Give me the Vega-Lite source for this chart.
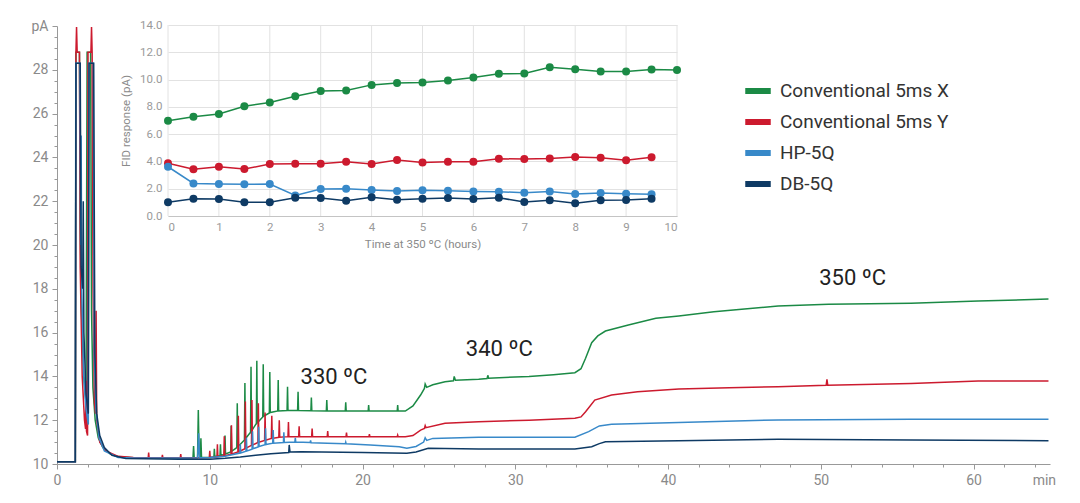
{
  "$schema": "https://vega.github.io/schema/vega-lite/v6.json",
  "width": 993,
  "height": 438,
  "autosize": {"type": "none"},
  "padding": {"left": 57, "top": 26, "right": 30, "bottom": 39},
  "background": "white",
  "config": {
    "view": {"stroke": null},
    "font": "Roboto",
    "legend": {"symbolType": "stroke", "symbolStrokeWidth": 6, "symbolSize": 650, "labelFontSize": 19, "labelColor": "#333", "labelFont": "Roboto", "rowPadding": 3, "labelOffset": 6, "labelLimit": 400, "title": null}
  },
  "datasets": {
    "trace": [
      {"s":"Conventional 5ms X","t":0,"v":10.1},{"s":"Conventional 5ms X","t":1.2,"v":10.1},{"s":"Conventional 5ms X","t":1.24,"v":28.8},{"s":"Conventional 5ms X","t":1.47,"v":28.8},{"s":"Conventional 5ms X","t":1.52,"v":21},{"s":"Conventional 5ms X","t":1.6,"v":17},{"s":"Conventional 5ms X","t":1.75,"v":14},{"s":"Conventional 5ms X","t":1.9,"v":12.8},{"s":"Conventional 5ms X","t":1.97,"v":28.8},{"s":"Conventional 5ms X","t":2.2,"v":28.8},{"s":"Conventional 5ms X","t":2.26,"v":17},{"s":"Conventional 5ms X","t":2.35,"v":13.5},{"s":"Conventional 5ms X","t":2.5,"v":12},{"s":"Conventional 5ms X","t":2.7,"v":11.2},{"s":"Conventional 5ms X","t":3.0,"v":10.75},{"s":"Conventional 5ms X","t":3.5,"v":10.45},{"s":"Conventional 5ms X","t":4.0,"v":10.33},{"s":"Conventional 5ms X","t":5.0,"v":10.28},{"s":"Conventional 5ms X","t":6.0,"v":10.27},{"s":"Conventional 5ms X","t":7.0,"v":10.26},{"s":"Conventional 5ms X","t":8.0,"v":10.26},{"s":"Conventional 5ms X","t":8.9,"v":10.27},{"s":"Conventional 5ms X","t":8.94,"v":10.82},{"s":"Conventional 5ms X","t":8.98,"v":10.28},{"s":"Conventional 5ms X","t":9.2,"v":10.28},{"s":"Conventional 5ms X","t":9.25,"v":12.47},{"s":"Conventional 5ms X","t":9.3,"v":10.5},{"s":"Conventional 5ms X","t":9.38,"v":10.3},{"s":"Conventional 5ms X","t":9.42,"v":11.17},{"s":"Conventional 5ms X","t":9.46,"v":10.3},{"s":"Conventional 5ms X","t":10.0,"v":10.3},{"s":"Conventional 5ms X","t":10.27,"v":10.32},{"s":"Conventional 5ms X","t":10.3,"v":10.7},{"s":"Conventional 5ms X","t":10.33,"v":10.34},{"s":"Conventional 5ms X","t":10.67,"v":10.38},{"s":"Conventional 5ms X","t":10.7,"v":10.9},{"s":"Conventional 5ms X","t":10.73,"v":10.4},{"s":"Conventional 5ms X","t":10.97,"v":10.44},{"s":"Conventional 5ms X","t":11.0,"v":11.3},{"s":"Conventional 5ms X","t":11.03,"v":10.46},{"s":"Conventional 5ms X","t":11.37,"v":10.55},{"s":"Conventional 5ms X","t":11.4,"v":11.75},{"s":"Conventional 5ms X","t":11.43,"v":10.58},{"s":"Conventional 5ms X","t":11.77,"v":10.75},{"s":"Conventional 5ms X","t":11.8,"v":12.77},{"s":"Conventional 5ms X","t":11.83,"v":10.8},{"s":"Conventional 5ms X","t":12.0,"v":10.9},{"s":"Conventional 5ms X","t":12.27,"v":11.1},{"s":"Conventional 5ms X","t":12.3,"v":13.7},{"s":"Conventional 5ms X","t":12.33,"v":11.15},{"s":"Conventional 5ms X","t":12.5,"v":11.3},{"s":"Conventional 5ms X","t":12.67,"v":11.45},{"s":"Conventional 5ms X","t":12.7,"v":14.44},{"s":"Conventional 5ms X","t":12.73,"v":11.5},{"s":"Conventional 5ms X","t":13.0,"v":11.8},{"s":"Conventional 5ms X","t":13.05,"v":11.85},{"s":"Conventional 5ms X","t":13.08,"v":14.72},{"s":"Conventional 5ms X","t":13.11,"v":11.88},{"s":"Conventional 5ms X","t":13.47,"v":12.15},{"s":"Conventional 5ms X","t":13.5,"v":14.55},{"s":"Conventional 5ms X","t":13.53,"v":12.18},{"s":"Conventional 5ms X","t":13.9,"v":12.33},{"s":"Conventional 5ms X","t":13.93,"v":14.2},{"s":"Conventional 5ms X","t":13.96,"v":12.35},{"s":"Conventional 5ms X","t":14.45,"v":12.42},{"s":"Conventional 5ms X","t":14.48,"v":13.84},{"s":"Conventional 5ms X","t":14.51,"v":12.42},{"s":"Conventional 5ms X","t":15.06,"v":12.44},{"s":"Conventional 5ms X","t":15.09,"v":13.53},{"s":"Conventional 5ms X","t":15.12,"v":12.44},{"s":"Conventional 5ms X","t":15.75,"v":12.44},{"s":"Conventional 5ms X","t":15.78,"v":13.3},{"s":"Conventional 5ms X","t":15.81,"v":12.44},{"s":"Conventional 5ms X","t":16.62,"v":12.43},{"s":"Conventional 5ms X","t":16.65,"v":13.03},{"s":"Conventional 5ms X","t":16.68,"v":12.43},{"s":"Conventional 5ms X","t":17.63,"v":12.42},{"s":"Conventional 5ms X","t":17.66,"v":12.92},{"s":"Conventional 5ms X","t":17.69,"v":12.42},{"s":"Conventional 5ms X","t":18.87,"v":12.42},{"s":"Conventional 5ms X","t":18.9,"v":12.82},{"s":"Conventional 5ms X","t":18.93,"v":12.42},{"s":"Conventional 5ms X","t":20.37,"v":12.42},{"s":"Conventional 5ms X","t":20.4,"v":12.69},{"s":"Conventional 5ms X","t":20.43,"v":12.42},{"s":"Conventional 5ms X","t":22.27,"v":12.42},{"s":"Conventional 5ms X","t":22.3,"v":12.69},{"s":"Conventional 5ms X","t":22.33,"v":12.42},{"s":"Conventional 5ms X","t":22.8,"v":12.42},{"s":"Conventional 5ms X","t":23.3,"v":12.65},{"s":"Conventional 5ms X","t":23.8,"v":13.15},{"s":"Conventional 5ms X","t":24.05,"v":13.45},{"s":"Conventional 5ms X","t":24.1,"v":13.65},{"s":"Conventional 5ms X","t":24.2,"v":13.5},{"s":"Conventional 5ms X","t":24.6,"v":13.62},{"s":"Conventional 5ms X","t":25.4,"v":13.76},{"s":"Conventional 5ms X","t":25.95,"v":13.8},{"s":"Conventional 5ms X","t":26.0,"v":14.0},{"s":"Conventional 5ms X","t":26.08,"v":13.82},{"s":"Conventional 5ms X","t":27.6,"v":13.87},{"s":"Conventional 5ms X","t":28.15,"v":13.9},{"s":"Conventional 5ms X","t":28.2,"v":14.05},{"s":"Conventional 5ms X","t":28.25,"v":13.92},{"s":"Conventional 5ms X","t":30.9,"v":14.0},{"s":"Conventional 5ms X","t":32.5,"v":14.08},{"s":"Conventional 5ms X","t":33.9,"v":14.17},{"s":"Conventional 5ms X","t":34.3,"v":14.35},{"s":"Conventional 5ms X","t":34.6,"v":14.83},{"s":"Conventional 5ms X","t":35.0,"v":15.54},{"s":"Conventional 5ms X","t":35.4,"v":15.85},{"s":"Conventional 5ms X","t":35.9,"v":16.07},{"s":"Conventional 5ms X","t":37.4,"v":16.35},{"s":"Conventional 5ms X","t":39.2,"v":16.65},{"s":"Conventional 5ms X","t":40.7,"v":16.76},{"s":"Conventional 5ms X","t":43,"v":16.95},{"s":"Conventional 5ms X","t":45,"v":17.08},{"s":"Conventional 5ms X","t":47.2,"v":17.21},{"s":"Conventional 5ms X","t":50.5,"v":17.29},{"s":"Conventional 5ms X","t":55.9,"v":17.34},{"s":"Conventional 5ms X","t":60.3,"v":17.44},{"s":"Conventional 5ms X","t":64.9,"v":17.53},

      {"s":"Conventional 5ms Y","t":0,"v":10.1},{"s":"Conventional 5ms Y","t":1.2,"v":10.1},{"s":"Conventional 5ms Y","t":1.24,"v":28.8},{"s":"Conventional 5ms Y","t":1.28,"v":29.95},{"s":"Conventional 5ms Y","t":1.32,"v":28.8},{"s":"Conventional 5ms Y","t":1.47,"v":28.8},{"s":"Conventional 5ms Y","t":1.52,"v":19},{"s":"Conventional 5ms Y","t":1.65,"v":14},{"s":"Conventional 5ms Y","t":1.8,"v":12},{"s":"Conventional 5ms Y","t":1.87,"v":11.6},{"s":"Conventional 5ms Y","t":1.9,"v":13.8},{"s":"Conventional 5ms Y","t":1.93,"v":11.5},{"s":"Conventional 5ms Y","t":2.0,"v":11.3},{"s":"Conventional 5ms Y","t":2.03,"v":28.8},{"s":"Conventional 5ms Y","t":2.22,"v":28.8},{"s":"Conventional 5ms Y","t":2.26,"v":29.95},{"s":"Conventional 5ms Y","t":2.3,"v":28.8},{"s":"Conventional 5ms Y","t":2.36,"v":18},{"s":"Conventional 5ms Y","t":2.45,"v":12.8},{"s":"Conventional 5ms Y","t":2.52,"v":12.3},{"s":"Conventional 5ms Y","t":2.56,"v":17.0},{"s":"Conventional 5ms Y","t":2.6,"v":12.0},{"s":"Conventional 5ms Y","t":2.8,"v":11.0},{"s":"Conventional 5ms Y","t":3.2,"v":10.6},{"s":"Conventional 5ms Y","t":4.0,"v":10.35},{"s":"Conventional 5ms Y","t":5.0,"v":10.3},{"s":"Conventional 5ms Y","t":5.97,"v":10.28},{"s":"Conventional 5ms Y","t":6.0,"v":10.52},{"s":"Conventional 5ms Y","t":6.03,"v":10.28},{"s":"Conventional 5ms Y","t":6.87,"v":10.28},{"s":"Conventional 5ms Y","t":6.9,"v":10.42},{"s":"Conventional 5ms Y","t":6.93,"v":10.28},{"s":"Conventional 5ms Y","t":8.07,"v":10.28},{"s":"Conventional 5ms Y","t":8.1,"v":10.45},{"s":"Conventional 5ms Y","t":8.13,"v":10.28},{"s":"Conventional 5ms Y","t":9.97,"v":10.3},{"s":"Conventional 5ms Y","t":10.0,"v":10.6},{"s":"Conventional 5ms Y","t":10.03,"v":10.3},{"s":"Conventional 5ms Y","t":10.47,"v":10.32},{"s":"Conventional 5ms Y","t":10.5,"v":10.9},{"s":"Conventional 5ms Y","t":10.53,"v":10.33},{"s":"Conventional 5ms Y","t":10.92,"v":10.38},{"s":"Conventional 5ms Y","t":10.95,"v":11.27},{"s":"Conventional 5ms Y","t":10.98,"v":10.38},{"s":"Conventional 5ms Y","t":11.39,"v":10.45},{"s":"Conventional 5ms Y","t":11.42,"v":11.77},{"s":"Conventional 5ms Y","t":11.45,"v":10.46},{"s":"Conventional 5ms Y","t":11.84,"v":10.55},{"s":"Conventional 5ms Y","t":11.87,"v":12.2},{"s":"Conventional 5ms Y","t":11.9,"v":10.56},{"s":"Conventional 5ms Y","t":12.3,"v":10.7},{"s":"Conventional 5ms Y","t":12.33,"v":12.85},{"s":"Conventional 5ms Y","t":12.36,"v":10.72},{"s":"Conventional 5ms Y","t":12.73,"v":10.85},{"s":"Conventional 5ms Y","t":12.76,"v":12.92},{"s":"Conventional 5ms Y","t":12.79,"v":10.86},{"s":"Conventional 5ms Y","t":13.15,"v":10.98},{"s":"Conventional 5ms Y","t":13.18,"v":12.77},{"s":"Conventional 5ms Y","t":13.21,"v":10.99},{"s":"Conventional 5ms Y","t":13.59,"v":11.08},{"s":"Conventional 5ms Y","t":13.62,"v":12.35},{"s":"Conventional 5ms Y","t":13.65,"v":11.09},{"s":"Conventional 5ms Y","t":14.03,"v":11.17},{"s":"Conventional 5ms Y","t":14.06,"v":12.2},{"s":"Conventional 5ms Y","t":14.09,"v":11.17},{"s":"Conventional 5ms Y","t":14.52,"v":11.22},{"s":"Conventional 5ms Y","t":14.55,"v":12.0},{"s":"Conventional 5ms Y","t":14.58,"v":11.22},{"s":"Conventional 5ms Y","t":15.12,"v":11.25},{"s":"Conventional 5ms Y","t":15.15,"v":11.92},{"s":"Conventional 5ms Y","t":15.18,"v":11.25},{"s":"Conventional 5ms Y","t":15.82,"v":11.25},{"s":"Conventional 5ms Y","t":15.85,"v":11.72},{"s":"Conventional 5ms Y","t":15.88,"v":11.25},{"s":"Conventional 5ms Y","t":16.67,"v":11.25},{"s":"Conventional 5ms Y","t":16.7,"v":11.62},{"s":"Conventional 5ms Y","t":16.73,"v":11.25},{"s":"Conventional 5ms Y","t":17.69,"v":11.25},{"s":"Conventional 5ms Y","t":17.72,"v":11.5},{"s":"Conventional 5ms Y","t":17.75,"v":11.25},{"s":"Conventional 5ms Y","t":18.92,"v":11.25},{"s":"Conventional 5ms Y","t":18.95,"v":11.43},{"s":"Conventional 5ms Y","t":18.98,"v":11.25},{"s":"Conventional 5ms Y","t":20.42,"v":11.25},{"s":"Conventional 5ms Y","t":20.45,"v":11.36},{"s":"Conventional 5ms Y","t":20.48,"v":11.25},{"s":"Conventional 5ms Y","t":22.27,"v":11.25},{"s":"Conventional 5ms Y","t":22.3,"v":11.32},{"s":"Conventional 5ms Y","t":22.33,"v":11.25},{"s":"Conventional 5ms Y","t":22.8,"v":11.25},{"s":"Conventional 5ms Y","t":23.3,"v":11.3},{"s":"Conventional 5ms Y","t":23.8,"v":11.55},{"s":"Conventional 5ms Y","t":24.05,"v":11.62},{"s":"Conventional 5ms Y","t":24.1,"v":11.75},{"s":"Conventional 5ms Y","t":24.15,"v":11.66},{"s":"Conventional 5ms Y","t":25.4,"v":11.86},{"s":"Conventional 5ms Y","t":27.6,"v":11.93},{"s":"Conventional 5ms Y","t":30.9,"v":12.0},{"s":"Conventional 5ms Y","t":33.9,"v":12.09},{"s":"Conventional 5ms Y","t":34.3,"v":12.15},{"s":"Conventional 5ms Y","t":34.6,"v":12.39},{"s":"Conventional 5ms Y","t":35.2,"v":12.92},{"s":"Conventional 5ms Y","t":36.3,"v":13.15},{"s":"Conventional 5ms Y","t":38.0,"v":13.3},{"s":"Conventional 5ms Y","t":40.7,"v":13.43},{"s":"Conventional 5ms Y","t":44,"v":13.48},{"s":"Conventional 5ms Y","t":47.2,"v":13.53},{"s":"Conventional 5ms Y","t":50.35,"v":13.6},{"s":"Conventional 5ms Y","t":50.4,"v":13.87},{"s":"Conventional 5ms Y","t":50.45,"v":13.6},{"s":"Conventional 5ms Y","t":55.9,"v":13.68},{"s":"Conventional 5ms Y","t":60.3,"v":13.79},{"s":"Conventional 5ms Y","t":64.9,"v":13.79},

      {"s":"HP-5Q","t":0,"v":10.1},{"s":"HP-5Q","t":1.2,"v":10.1},{"s":"HP-5Q","t":1.23,"v":28.3},{"s":"HP-5Q","t":1.5,"v":28.3},{"s":"HP-5Q","t":1.55,"v":20},{"s":"HP-5Q","t":1.58,"v":25.0},{"s":"HP-5Q","t":1.62,"v":18},{"s":"HP-5Q","t":1.75,"v":14},{"s":"HP-5Q","t":1.9,"v":12.5},{"s":"HP-5Q","t":2.05,"v":11.8},{"s":"HP-5Q","t":2.09,"v":28.3},{"s":"HP-5Q","t":2.38,"v":28.3},{"s":"HP-5Q","t":2.44,"v":15},{"s":"HP-5Q","t":2.55,"v":12.5},{"s":"HP-5Q","t":2.75,"v":11.2},{"s":"HP-5Q","t":3.1,"v":10.6},{"s":"HP-5Q","t":4.0,"v":10.3},{"s":"HP-5Q","t":5,"v":10.27},{"s":"HP-5Q","t":8,"v":10.27},{"s":"HP-5Q","t":9.2,"v":10.28},{"s":"HP-5Q","t":9.27,"v":11.4},{"s":"HP-5Q","t":9.33,"v":10.28},{"s":"HP-5Q","t":10,"v":10.3},{"s":"HP-5Q","t":11,"v":10.35},{"s":"HP-5Q","t":11.97,"v":10.5},{"s":"HP-5Q","t":12.0,"v":10.9},{"s":"HP-5Q","t":12.03,"v":10.5},{"s":"HP-5Q","t":12.37,"v":10.58},{"s":"HP-5Q","t":12.4,"v":11.2},{"s":"HP-5Q","t":12.43,"v":10.6},{"s":"HP-5Q","t":12.77,"v":10.68},{"s":"HP-5Q","t":12.8,"v":11.5},{"s":"HP-5Q","t":12.83,"v":10.7},{"s":"HP-5Q","t":13.17,"v":10.78},{"s":"HP-5Q","t":13.2,"v":11.7},{"s":"HP-5Q","t":13.23,"v":10.8},{"s":"HP-5Q","t":13.62,"v":10.88},{"s":"HP-5Q","t":13.65,"v":11.63},{"s":"HP-5Q","t":13.68,"v":10.89},{"s":"HP-5Q","t":14.12,"v":10.95},{"s":"HP-5Q","t":14.15,"v":11.55},{"s":"HP-5Q","t":14.18,"v":10.95},{"s":"HP-5Q","t":14.82,"v":10.98},{"s":"HP-5Q","t":14.85,"v":11.45},{"s":"HP-5Q","t":14.88,"v":10.98},{"s":"HP-5Q","t":15.57,"v":11.0},{"s":"HP-5Q","t":15.6,"v":11.2},{"s":"HP-5Q","t":15.63,"v":11.0},{"s":"HP-5Q","t":16.57,"v":10.98},{"s":"HP-5Q","t":16.6,"v":11.08},{"s":"HP-5Q","t":16.63,"v":10.97},{"s":"HP-5Q","t":17.7,"v":10.95},{"s":"HP-5Q","t":18.87,"v":10.92},{"s":"HP-5Q","t":18.9,"v":11.0},{"s":"HP-5Q","t":18.93,"v":10.92},{"s":"HP-5Q","t":20.5,"v":10.87},{"s":"HP-5Q","t":22.4,"v":10.79},{"s":"HP-5Q","t":22.9,"v":10.72},{"s":"HP-5Q","t":23.5,"v":10.8},{"s":"HP-5Q","t":24.0,"v":11.0},{"s":"HP-5Q","t":24.1,"v":11.2},{"s":"HP-5Q","t":24.2,"v":11.08},{"s":"HP-5Q","t":24.6,"v":11.17},{"s":"HP-5Q","t":27.6,"v":11.22},{"s":"HP-5Q","t":33.9,"v":11.22},{"s":"HP-5Q","t":34.8,"v":11.48},{"s":"HP-5Q","t":35.5,"v":11.74},{"s":"HP-5Q","t":36.3,"v":11.81},{"s":"HP-5Q","t":40.7,"v":11.9},{"s":"HP-5Q","t":47.2,"v":12.01},{"s":"HP-5Q","t":55.9,"v":12.04},{"s":"HP-5Q","t":64.9,"v":12.04},

      {"s":"DB-5Q","t":0,"v":10.1},{"s":"DB-5Q","t":1.2,"v":10.1},{"s":"DB-5Q","t":1.24,"v":28.3},{"s":"DB-5Q","t":1.52,"v":28.3},{"s":"DB-5Q","t":1.58,"v":19},{"s":"DB-5Q","t":1.68,"v":18},{"s":"DB-5Q","t":1.72,"v":22.0},{"s":"DB-5Q","t":1.76,"v":16},{"s":"DB-5Q","t":1.9,"v":13.2},{"s":"DB-5Q","t":2.05,"v":12.3},{"s":"DB-5Q","t":2.1,"v":28.3},{"s":"DB-5Q","t":2.4,"v":28.3},{"s":"DB-5Q","t":2.48,"v":15},{"s":"DB-5Q","t":2.6,"v":12.3},{"s":"DB-5Q","t":2.8,"v":11.3},{"s":"DB-5Q","t":3.1,"v":10.75},{"s":"DB-5Q","t":3.6,"v":10.4},{"s":"DB-5Q","t":4.5,"v":10.25},{"s":"DB-5Q","t":8,"v":10.22},{"s":"DB-5Q","t":10,"v":10.22},{"s":"DB-5Q","t":11,"v":10.26},{"s":"DB-5Q","t":12,"v":10.32},{"s":"DB-5Q","t":13,"v":10.4},{"s":"DB-5Q","t":14,"v":10.47},{"s":"DB-5Q","t":15.17,"v":10.52},{"s":"DB-5Q","t":15.2,"v":10.87},{"s":"DB-5Q","t":15.25,"v":10.55},{"s":"DB-5Q","t":16,"v":10.56},{"s":"DB-5Q","t":20,"v":10.52},{"s":"DB-5Q","t":22.9,"v":10.49},{"s":"DB-5Q","t":23.5,"v":10.55},{"s":"DB-5Q","t":24.3,"v":10.72},{"s":"DB-5Q","t":27.6,"v":10.68},{"s":"DB-5Q","t":33.9,"v":10.68},{"s":"DB-5Q","t":35.0,"v":10.79},{"s":"DB-5Q","t":35.5,"v":10.93},{"s":"DB-5Q","t":35.9,"v":11.02},{"s":"DB-5Q","t":40.7,"v":11.06},{"s":"DB-5Q","t":47.2,"v":11.13},{"s":"DB-5Q","t":55.9,"v":11.1},{"s":"DB-5Q","t":64.9,"v":11.06}
    ],
    "labels": [
      {"t": 18.13, "v": 13.99, "label": "330 ºC"},
      {"t": 28.95, "v": 15.24, "label": "340 ºC"},
      {"t": 52.08, "v": 18.51, "label": "350 ºC"}
    ],
    "igrid": [
      {"h": 0, "r": 0, "r2": 14},{"h": 1, "r": 0, "r2": 14},{"h": 2, "r": 0, "r2": 14},{"h": 3, "r": 0, "r2": 14},{"h": 4, "r": 0, "r2": 14},{"h": 5, "r": 0, "r2": 14},{"h": 6, "r": 0, "r2": 14},{"h": 7, "r": 0, "r2": 14},{"h": 8, "r": 0, "r2": 14},{"h": 9, "r": 0, "r2": 14},{"h": 10, "r": 0, "r2": 14}
    ],
    "inset": [
      {"s":"Conventional 5ms X","h":0,"r":6.98},{"s":"Conventional 5ms X","h":0.5,"r":7.27},{"s":"Conventional 5ms X","h":1,"r":7.47},{"s":"Conventional 5ms X","h":1.5,"r":8.05},{"s":"Conventional 5ms X","h":2,"r":8.32},{"s":"Conventional 5ms X","h":2.5,"r":8.78},{"s":"Conventional 5ms X","h":3,"r":9.17},{"s":"Conventional 5ms X","h":3.5,"r":9.2},{"s":"Conventional 5ms X","h":4,"r":9.61},{"s":"Conventional 5ms X","h":4.5,"r":9.74},{"s":"Conventional 5ms X","h":5,"r":9.78},{"s":"Conventional 5ms X","h":5.5,"r":9.93},{"s":"Conventional 5ms X","h":6,"r":10.15},{"s":"Conventional 5ms X","h":6.5,"r":10.42},{"s":"Conventional 5ms X","h":7,"r":10.45},{"s":"Conventional 5ms X","h":7.5,"r":10.9},{"s":"Conventional 5ms X","h":8,"r":10.76},{"s":"Conventional 5ms X","h":8.5,"r":10.59},{"s":"Conventional 5ms X","h":9,"r":10.59},{"s":"Conventional 5ms X","h":9.5,"r":10.74},{"s":"Conventional 5ms X","h":10,"r":10.71},
      {"s":"Conventional 5ms Y","h":0,"r":3.86},{"s":"Conventional 5ms Y","h":0.5,"r":3.42},{"s":"Conventional 5ms Y","h":1,"r":3.61},{"s":"Conventional 5ms Y","h":1.5,"r":3.44},{"s":"Conventional 5ms Y","h":2,"r":3.81},{"s":"Conventional 5ms Y","h":2.5,"r":3.83},{"s":"Conventional 5ms Y","h":3,"r":3.83},{"s":"Conventional 5ms Y","h":3.5,"r":3.98},{"s":"Conventional 5ms Y","h":4,"r":3.81},{"s":"Conventional 5ms Y","h":4.5,"r":4.1},{"s":"Conventional 5ms Y","h":5,"r":3.93},{"s":"Conventional 5ms Y","h":5.5,"r":3.98},{"s":"Conventional 5ms Y","h":6,"r":3.98},{"s":"Conventional 5ms Y","h":6.5,"r":4.2},{"s":"Conventional 5ms Y","h":7,"r":4.17},{"s":"Conventional 5ms Y","h":7.5,"r":4.22},{"s":"Conventional 5ms Y","h":8,"r":4.32},{"s":"Conventional 5ms Y","h":8.5,"r":4.27},{"s":"Conventional 5ms Y","h":9,"r":4.08},{"s":"Conventional 5ms Y","h":9.5,"r":4.3},
      {"s":"HP-5Q","h":0,"r":3.61},{"s":"HP-5Q","h":0.5,"r":2.39},{"s":"HP-5Q","h":1,"r":2.34},{"s":"HP-5Q","h":1.5,"r":2.32},{"s":"HP-5Q","h":2,"r":2.34},{"s":"HP-5Q","h":2.5,"r":1.51},{"s":"HP-5Q","h":3,"r":1.98},{"s":"HP-5Q","h":3.5,"r":2.0},{"s":"HP-5Q","h":4,"r":1.9},{"s":"HP-5Q","h":4.5,"r":1.83},{"s":"HP-5Q","h":5,"r":1.88},{"s":"HP-5Q","h":5.5,"r":1.85},{"s":"HP-5Q","h":6,"r":1.8},{"s":"HP-5Q","h":6.5,"r":1.78},{"s":"HP-5Q","h":7,"r":1.71},{"s":"HP-5Q","h":7.5,"r":1.8},{"s":"HP-5Q","h":8,"r":1.61},{"s":"HP-5Q","h":8.5,"r":1.68},{"s":"HP-5Q","h":9,"r":1.63},{"s":"HP-5Q","h":9.5,"r":1.59},
      {"s":"DB-5Q","h":0,"r":1.0},{"s":"DB-5Q","h":0.5,"r":1.27},{"s":"DB-5Q","h":1,"r":1.24},{"s":"DB-5Q","h":1.5,"r":1.0},{"s":"DB-5Q","h":2,"r":1.0},{"s":"DB-5Q","h":2.5,"r":1.34},{"s":"DB-5Q","h":3,"r":1.32},{"s":"DB-5Q","h":3.5,"r":1.12},{"s":"DB-5Q","h":4,"r":1.37},{"s":"DB-5Q","h":4.5,"r":1.19},{"s":"DB-5Q","h":5,"r":1.27},{"s":"DB-5Q","h":5.5,"r":1.32},{"s":"DB-5Q","h":6,"r":1.24},{"s":"DB-5Q","h":6.5,"r":1.34},{"s":"DB-5Q","h":7,"r":1.02},{"s":"DB-5Q","h":7.5,"r":1.15},{"s":"DB-5Q","h":8,"r":0.93},{"s":"DB-5Q","h":8.5,"r":1.15},{"s":"DB-5Q","h":9,"r":1.17},{"s":"DB-5Q","h":9.5,"r":1.27}
    ]
  },
  "layer": [
    {
      "layer": [
        {
          "data": {"name": "trace"},
          "mark": {"type": "line", "strokeWidth": 1.5, "clip": true},
          "encoding": {
            "x": {"field": "t", "type": "quantitative", "scale": {"domain": [0, 65], "nice": false, "zero": false},
                  "axis": {"orient": "bottom", "values": [0, 10, 20, 30, 40, 50, 60, 64.6], "labelExpr": "datum.value > 64 ? 'min' : datum.label", "tickColor": {"condition": {"test": "datum.value > 64", "value": "transparent"}, "value": "#999"}, "title": null, "grid": false, "domainColor": "#999", "tickSize": 5, "labelColor": "#8a8a8a", "labelFontSize": 14, "labelFont": "Roboto", "labelPadding": 4, "labelFlush": false}},
            "y": {"field": "v", "type": "quantitative", "scale": {"domain": [10, 30], "nice": false, "zero": false},
                  "axis": {"orient": "left", "values": [10, 12, 14, 16, 18, 20, 22, 24, 26, 28, 30], "labelExpr": "datum.value == 30 ? 'pA' : datum.label", "title": null, "grid": false, "domainColor": "#999", "tickColor": "#999", "tickSize": 5, "labelColor": "#8a8a8a", "labelFontSize": 14, "labelFont": "Roboto", "labelPadding": 4}},
            "color": {"field": "s", "type": "nominal",
                      "scale": {"domain": ["Conventional 5ms X", "Conventional 5ms Y", "HP-5Q", "DB-5Q"], "range": ["#1b8a45", "#cc1a2e", "#3889c9", "#0e3a64"]},
                      "legend": {"orient": "none", "legendX": 685, "legendY": 49, "symbolType": "stroke", "symbolStrokeWidth": 6, "symbolSize": 650, "labelFontSize": 19, "rowPadding": 3, "labelOffset": 6, "labelLimit": 400, "title": null}}
          }
        },
        {
          "data": {"name": "labels"},
          "mark": {"type": "text", "fontSize": 22, "font": "Roboto", "color": "#222", "align": "center", "baseline": "middle"},
          "encoding": {
            "x": {"field": "t", "type": "quantitative", "scale": {"domain": [0, 65], "nice": false, "zero": false},
                  "axis": {"orient": "bottom", "values": [2, 4, 6, 8, 12, 14, 16, 18, 22, 24, 26, 28, 32, 34, 36, 38, 42, 44, 46, 48, 52, 54, 56, 58, 62, 64], "labels": false, "domain": false, "tickSize": 3, "tickColor": "#999", "title": null, "grid": false}},
            "y": {"field": "v", "type": "quantitative", "scale": {"domain": [10, 30], "nice": false, "zero": false},
                  "axis": {"orient": "left", "values": [10.5, 11, 11.5, 12.5, 13, 13.5, 14.5, 15, 15.5, 16.5, 17, 17.5, 18.5, 19, 19.5, 20.5, 21, 21.5, 22.5, 23, 23.5, 24.5, 25, 25.5, 26.5, 27, 27.5, 28.5, 29, 29.5], "labels": false, "domain": false, "tickSize": 3, "tickColor": "#999", "title": null, "grid": false}},
            "text": {"field": "label", "type": "nominal"}
          }
        }
      ],
      "resolve": {"axis": {"x": "independent", "y": "independent"}}
    },
    {
      "encoding": {
        "x": {"field": "h", "type": "quantitative", "scale": {"domain": [0, 10], "range": [111, 620], "nice": false, "zero": false},
              "axis": {"orient": "bottom", "offset": -248, "values": [0, 1, 2, 3, 4, 5, 6, 7, 8, 9, 10], "format": "d", "grid": false, "domainColor": "#c4c4c4", "ticks": false, "labelColor": "#9a9a9a", "labelFontSize": 11.5, "labelFont": "Roboto", "labelPadding": 5, "title": "Time at 350 ºC (hours)", "titleFont": "Roboto", "titleFontSize": 11.5, "titleFontWeight": "normal", "titleColor": "#8a8a8a", "titlePadding": 6}},
        "y": {"field": "r", "type": "quantitative", "scale": {"domain": [0, 14], "range": [190, -1], "nice": false, "zero": false},
              "axis": {"orient": "left", "offset": -111, "values": [0, 2, 4, 6, 8, 10, 12, 14], "format": ".1f", "grid": true, "gridColor": "#e2e2e2", "domain": false, "ticks": false, "labelColor": "#9a9a9a", "labelFontSize": 11.5, "labelFont": "Roboto", "labelPadding": 6, "title": "FID response (pA)", "titleFont": "Roboto", "titleFontSize": 11.5, "titleFontWeight": "normal", "titleColor": "#8a8a8a", "titlePadding": 8}}
      },
      "layer": [
        {
          "data": {"name": "igrid"},
          "mark": {"type": "rule", "strokeWidth": 1},
          "encoding": {
            "y2": {"field": "r2"},
            "color": {"value": "#e2e2e2"}
          }
        },
        {
          "data": {"name": "inset"},
          "mark": {"type": "line", "strokeWidth": 1.5},
          "encoding": {"color": {"field": "s", "type": "nominal"}}
        },
        {
          "data": {"name": "inset"},
          "mark": {"type": "point", "filled": true, "size": 64, "opacity": 1},
          "encoding": {"color": {"field": "s", "type": "nominal"}}
        }
      ]
    }
  ],
  "resolve": {"scale": {"x": "independent", "y": "independent"}}
}
